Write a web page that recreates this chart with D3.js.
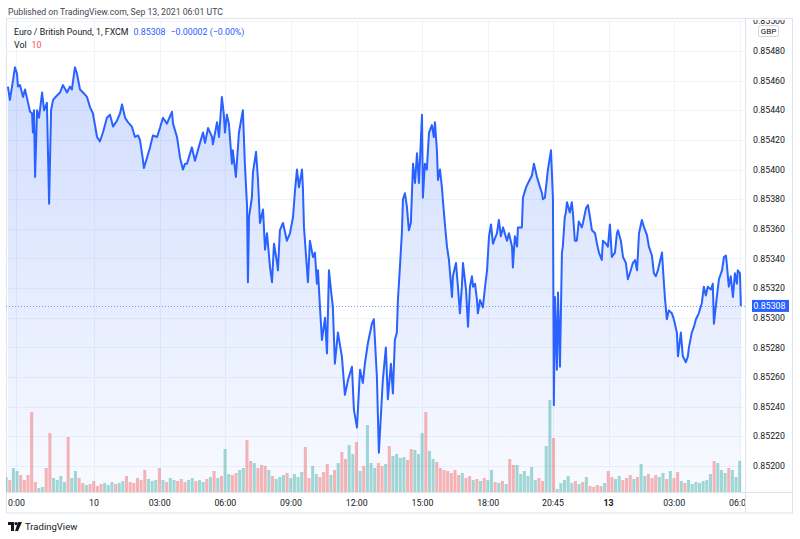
<!DOCTYPE html>
<html>
<head>
<meta charset="utf-8">
<script src="https://cdn.jsdelivr.net/npm/d3@7"></script>
<style>
  html, body { margin: 0; padding: 0; background: #fff; }
  svg { display: block; font-family: Roboto, "Noto Sans", sans-serif; }
</style>
</head>
<body>
<div id="chart"></div>
<script>
// EUR/GBP 1-minute, FXCM. Time is trading hours since the first bar (weekend gap removed)
const times = [
  0.07, 0.16, 0.30, 0.39, 0.48, 0.53, 0.62, 0.76, 0.85, 0.99, 1.08, 1.17, 1.21, 1.26, 1.31, 1.40, 1.49, 1.63, 1.72, 1.85,
  1.95, 2.04, 2.13, 2.31, 2.45, 2.58, 2.77, 2.90, 2.99, 3.13, 3.22, 3.36, 3.50, 3.68, 3.82, 3.95, 4.14, 4.27, 4.41, 4.59,
  4.73, 4.87, 5.05, 5.19, 5.28, 5.42, 5.55, 5.73, 5.87, 6.01, 6.10, 6.24, 6.28, 6.42, 6.56, 6.69, 6.88, 7.01, 7.15, 7.33,
  7.56, 7.61, 7.79, 7.93, 8.06, 8.16,
  8.25, 8.47, 8.61, 8.84, 8.98, 9.07, 9.21, 9.39, 9.43, 9.62, 9.71, 9.84, 9.93, 9.98, 10.07, 10.16, 10.30, 10.34, 10.48, 10.62,
  10.80, 10.89, 10.99, 11.03, 11.08, 11.21, 11.26, 11.40, 11.49, 11.58, 11.72, 11.81, 11.90, 12.04, 12.13, 12.22, 12.36, 12.40, 12.49, 12.63,
  12.81, 12.95, 13.09, 13.18, 13.27, 13.36, 13.50, 13.54, 13.59, 13.77, 13.86, 14.00, 14.09, 14.18, 14.23, 14.32, 14.41, 14.55, 14.64, 14.73,
  14.82, 14.91, 15.00, 15.14, 15.32, 15.46, 15.60, 15.78, 15.87, 16.01, 16.15, 16.28, 16.37, 16.51, 16.69, 16.78, 16.92, 17.01,
  17.19, 17.33, 17.42, 17.56, 17.65, 17.74, 17.83, 17.88, 17.97, 18.06, 18.11, 18.20, 18.29, 18.38, 18.47, 18.57, 18.66, 18.75, 18.84, 18.98,
  19.02, 19.11, 19.20, 19.30, 19.43, 19.52, 19.57, 19.66, 19.71, 19.80, 19.89, 19.93, 20.02, 20.12, 20.21, 20.35, 20.39, 20.53, 20.62, 20.71,
  20.80, 20.85, 20.99, 21.08, 21.17, 21.26, 21.31, 21.40, 21.49, 21.53, 21.63, 21.76, 21.86, 21.95, 22.04, 22.13, 22.22, 22.40, 22.49, 22.58,
  22.68, 22.86, 22.95, 23.09, 23.13, 23.22, 23.32, 23.36, 23.54, 23.59, 23.73, 23.86, 24.00, 24.09, 24.23, 24.37, 24.46, 24.50, 24.59, 24.68,
  24.73, 24.87, 24.96, 25.00, 25.05, 25.14, 25.19, 25.28, 25.37, 25.41, 25.50,
  25.55, 25.60, 25.73, 25.82, 25.87, 25.96, 26.05, 26.14, 26.28, 26.33, 26.47, 26.56, 26.65, 26.74, 26.88, 26.97, 27.06, 27.19, 27.24, 27.38,
  27.47, 27.56, 27.65, 27.79, 27.88, 27.93, 28.06, 28.16, 28.29, 28.38, 28.47, 28.61, 28.71, 28.80, 28.89, 29.02, 29.12, 29.25, 29.34, 29.48,
  29.57, 29.66, 29.75, 29.94, 29.98, 30.07, 30.16, 30.25, 30.39, 30.48, 30.62, 30.67, 30.80, 30.89, 31.03, 31.12, 31.17, 31.30, 31.40, 31.49,
  31.62, 31.76, 31.85, 31.94, 32.03, 32.17, 32.26, 32.31, 32.45, 32.54, 32.68, 32.77, 32.86, 32.90, 32.99, 33.08, 33.18, 33.27, 33.36, 33.40,
  33.50, 33.54
];
const prices = [
  0.85456, 0.85447, 0.85460, 0.85469, 0.85465, 0.85456, 0.85457, 0.85449, 0.85454, 0.85445, 0.85439, 0.85438, 0.85425, 0.85440, 0.85395, 0.85440, 0.85435, 0.85452, 0.85440, 0.85445,
  0.85377, 0.85440, 0.85447, 0.85450, 0.85452, 0.85457, 0.85452, 0.85456, 0.85454, 0.85469, 0.85465, 0.85454, 0.85452, 0.85449, 0.85442, 0.85438, 0.85422, 0.85419, 0.85425, 0.85435,
  0.85437, 0.85429, 0.85433, 0.85438, 0.85444, 0.85435, 0.85432, 0.85429, 0.85422, 0.85423, 0.85420, 0.85406, 0.85401, 0.85408, 0.85415, 0.85423, 0.85422, 0.85428, 0.85435, 0.85431,
  0.85439, 0.85431, 0.85422, 0.85408, 0.85400, 0.85404,
  0.85404, 0.85415, 0.85406, 0.85418, 0.85425, 0.85418, 0.85428, 0.85422, 0.85417, 0.85432, 0.85422, 0.85449, 0.85437, 0.85425, 0.85437, 0.85431, 0.85404, 0.85413, 0.85395, 0.85425,
  0.85440, 0.85404, 0.85375, 0.85324, 0.85368, 0.85381, 0.85398, 0.85412, 0.85393, 0.85364, 0.85373, 0.85346, 0.85357, 0.85334, 0.85324, 0.85350, 0.85337, 0.85332, 0.85359, 0.85364,
  0.85352, 0.85357, 0.85368, 0.85386, 0.85400, 0.85388, 0.85400, 0.85388, 0.85361, 0.85324, 0.85352, 0.85341, 0.85344, 0.85323, 0.85332, 0.85307, 0.85285, 0.85300, 0.85276, 0.85332,
  0.85319, 0.85307, 0.85269, 0.85290, 0.85274, 0.85248, 0.85258, 0.85267, 0.85238, 0.85226, 0.85265, 0.85256, 0.85269, 0.85283, 0.85296, 0.85299, 0.85260, 0.85209,
  0.85258, 0.85280, 0.85245, 0.85269, 0.85249, 0.85285, 0.85290, 0.85312, 0.85334, 0.85357, 0.85380, 0.85384, 0.85375, 0.85359, 0.85364, 0.85404, 0.85391, 0.85411, 0.85391, 0.85437,
  0.85381, 0.85404, 0.85400, 0.85425, 0.85430, 0.85422, 0.85432, 0.85413, 0.85393, 0.85400, 0.85388, 0.85380, 0.85364, 0.85348, 0.85339, 0.85314, 0.85328, 0.85337, 0.85321, 0.85303,
  0.85321, 0.85337, 0.85319, 0.85294, 0.85321, 0.85328, 0.85321, 0.85323, 0.85312, 0.85303, 0.85312, 0.85307, 0.85321, 0.85332, 0.85355, 0.85363, 0.85350, 0.85357, 0.85366, 0.85355,
  0.85361, 0.85352, 0.85357, 0.85348, 0.85334, 0.85355, 0.85348, 0.85361, 0.85361, 0.85381, 0.85388, 0.85392, 0.85396, 0.85404, 0.85395, 0.85388, 0.85384, 0.85380, 0.85381, 0.85393,
  0.85400, 0.85413, 0.85380, 0.85241, 0.85314, 0.85265, 0.85317, 0.85267, 0.85344, 0.85348, 0.85368,
  0.85371, 0.85378, 0.85371, 0.85378, 0.85371, 0.85352, 0.85352, 0.85365, 0.85361, 0.85364, 0.85374, 0.85376, 0.85368, 0.85359, 0.85357, 0.85350, 0.85344, 0.85339, 0.85352, 0.85350,
  0.85348, 0.85363, 0.85341, 0.85344, 0.85357, 0.85359, 0.85352, 0.85341, 0.85337, 0.85326, 0.85330, 0.85337, 0.85339, 0.85332, 0.85357, 0.85366, 0.85361, 0.85356, 0.85348, 0.85342,
  0.85330, 0.85328, 0.85332, 0.85344, 0.85334, 0.85314, 0.85299, 0.85305, 0.85303, 0.85299, 0.85290, 0.85274, 0.85290, 0.85274, 0.85270, 0.85274, 0.85280, 0.85290, 0.85294, 0.85299,
  0.85303, 0.85310, 0.85321, 0.85315, 0.85321, 0.85319, 0.85323, 0.85296, 0.85315, 0.85326, 0.85332, 0.85341, 0.85342, 0.85336, 0.85321, 0.85328, 0.85314, 0.85330, 0.85323, 0.85332,
  0.85330, 0.85308
];

// volume, one value per 10 minutes of trading time
const volumes = [
  15, 12, 24, 21, 17, 12, 17, 80, 10, 4, 5, 24, 59, 14, 12, 16, 10, 55, 14, 21,
  14, 9, 7, 8, 11, 6, 8, 9, 7, 10, 8, 9, 11, 16, 10, 9, 14, 12, 22, 13,
  11, 12, 24, 12, 10, 14, 12, 11, 13, 10, 12, 14, 11, 12, 10, 13, 15, 21, 14, 16,
  43, 18, 17, 19, 22, 24, 52, 31, 29, 24, 27, 26, 22, 16, 13, 15, 17, 19, 14, 18,
  15, 20, 45, 14, 26, 18, 15, 20, 28, 17, 22, 29, 40, 33, 47, 38, 50, 21, 26, 67,
  29, 24, 29, 26, 28, 46, 36, 38, 34, 35, 32, 43, 42, 38, 59, 80, 41, 33, 30, 24,
  22, 21, 19, 22, 17, 19, 14, 16, 12, 13, 11, 14, 12, 22, 10, 9, 11, 8, 33, 27,
  27, 18, 21, 16, 25, 12, 14, 11, 46, 92, 54, 3, 9, 12, 16, 9, 11, 8, 10, 15,
  6, 5, 7, 6, 9, 21, 15, 13, 16, 12, 14, 17, 13, 15, 28, 16, 18, 14, 17, 15,
  19, 13, 21, 14, 20, 11, 9, 12, 8, 10, 9, 11, 12, 18, 31, 29, 22, 19, 24, 22,
  15, 31
];
const volStep = 1 / 6;
const lastVol = 10;

const priceTicks = [0.8520, 0.8522, 0.8524, 0.8526, 0.8528, 0.8530, 0.8532, 0.8534,
                    0.8536, 0.8538, 0.8540, 0.8542, 0.8544, 0.8546, 0.8548, 0.8550];
const timeTicks = [0.46, 4, 7, 10, 13, 16, 19, 22, 24.96, 27.5, 30.5, 33.5];
const timeLabels = ["0:00", "10", "03:00", "06:00", "09:00", "12:00", "15:00", "18:00", "20:45", "13", "03:00", "06:00"];
const lastPrice = 0.85308;

const W = 800, H = 539;
const plotLeft = 6, plotRight = 745, plotTop = 18, plotBottom = 492;
const lineColor = '#2962ff';
const fontColor = '#131722';

const svg = d3.select('#chart').append('svg')
    .attr('width', W)
    .attr('height', H);

const x = d3.scaleLinear().domain([0, 33.73]).range([6.4, plotRight]);
const y = d3.scaleLinear().domain([0.8520, 0.8548]).range([466, 51]);
const yVol = d3.scaleLinear().domain([0, 100]).range([plotBottom, plotBottom - 100]);

const defs = svg.append('defs');
defs.append('clipPath').attr('id', 'plot-clip')
    .append('rect').attr('x', plotLeft).attr('y', plotTop)
    .attr('width', plotRight - plotLeft).attr('height', plotBottom - plotTop);
defs.append('clipPath').attr('id', 'axis-clip')
    .append('rect').attr('x', plotRight).attr('y', plotTop + 2)
    .attr('width', W - plotRight).attr('height', plotBottom - plotTop - 2);
defs.append('clipPath').attr('id', 'time-clip')
    .append('rect').attr('x', plotLeft).attr('y', plotBottom)
    .attr('width', plotRight - plotLeft).attr('height', 21);

const grad = defs.append('linearGradient')
    .attr('id', 'area-grad')
    .attr('gradientUnits', 'userSpaceOnUse')
    .attr('x1', 0).attr('y1', plotTop).attr('x2', 0).attr('y2', plotBottom);
grad.append('stop').attr('offset', '0%').attr('stop-color', lineColor).attr('stop-opacity', 0.24);
grad.append('stop').attr('offset', '100%').attr('stop-color', lineColor).attr('stop-opacity', 0.03);

// header
svg.append('text')
    .attr('x', 8).attr('y', 15)
    .style('font-size', '8.7px')
    .style('fill', '#434651')
    .text('Published on TradingView.com, Sep 13, 2021 06:01 UTC');

// frame
svg.append('rect')
    .attr('x', 6.5).attr('y', 18.5)
    .attr('width', 786).attr('height', 494.5)
    .attr('fill', 'none')
    .attr('stroke', '#e0e3eb');

const plot = svg.append('g').attr('clip-path', 'url(#plot-clip)');

// grid
plot.selectAll('.hgrid')
    .data(priceTicks)
    .enter().append('line')
    .attr('x1', plotLeft).attr('x2', plotRight)
    .attr('y1', d => Math.round(y(d)) + 0.5)
    .attr('y2', d => Math.round(y(d)) + 0.5)
    .attr('stroke', '#f0f3fa');
plot.selectAll('.vgrid')
    .data(timeTicks)
    .enter().append('line')
    .attr('y1', plotTop).attr('y2', plotBottom)
    .attr('x1', d => Math.round(x(d)) + 0.5)
    .attr('x2', d => Math.round(x(d)) + 0.5)
    .attr('stroke', '#f0f3fa');

const series = times.map((t, i) => ({ t: t, p: prices[i] }));

// area under the price line
plot.append('path')
    .datum(series)
    .attr('fill', 'url(#area-grad)')
    .attr('d', d3.area().x(d => x(d.t)).y0(plotBottom).y1(d => y(d.p)));

// volume bars, coloured by price direction over the bar
const bis = d3.bisector(d => d.t).right;
const priceAt = t => series[Math.max(0, bis(series, t) - 1)].p;
const barW = x(volStep) - x(0);
plot.selectAll('.vol')
    .data(volumes)
    .enter().append('rect')
    .attr('x', (d, i) => x(i * volStep) - barW / 2)
    .attr('width', barW - 0.6)
    .attr('y', d => yVol(d))
    .attr('height', d => plotBottom - yVol(d))
    .attr('fill', (d, i) => priceAt(i * volStep) >= priceAt((i - 1) * volStep) ? '#26a69a' : '#ef5350')
    .attr('opacity', 0.42);

// price line
plot.append('path')
    .datum(series)
    .attr('fill', 'none')
    .attr('stroke', lineColor)
    .attr('stroke-width', 2)
    .attr('stroke-linejoin', 'round')
    .attr('d', d3.line().x(d => x(d.t)).y(d => y(d.p)));

// last price dotted line
plot.append('line')
    .attr('x1', plotLeft).attr('x2', plotRight)
    .attr('y1', Math.round(y(lastPrice)) + 0.5)
    .attr('y2', Math.round(y(lastPrice)) + 0.5)
    .attr('stroke', lineColor)
    .attr('stroke-opacity', 0.6)
    .attr('stroke-dasharray', '1,2');

// separators
svg.append('line')
    .attr('x1', plotRight + 0.5).attr('x2', plotRight + 0.5)
    .attr('y1', plotTop).attr('y2', 513)
    .attr('stroke', '#e0e3eb');
svg.append('line')
    .attr('x1', plotLeft).attr('x2', 792)
    .attr('y1', plotBottom + 0.5).attr('y2', plotBottom + 0.5)
    .attr('stroke', '#e0e3eb');

// price axis
const yAxis = svg.append('g').attr('clip-path', 'url(#axis-clip)');
yAxis.selectAll('.ylab')
    .data(priceTicks)
    .enter().append('text')
    .attr('x', 753)
    .attr('y', d => y(d))
    .attr('dy', '0.35em')
    .style('font-size', '8.8px')
    .style('fill', fontColor)
    .text(d => d3.format('.5f')(d));

// currency badge
yAxis.append('rect')
    .attr('x', 758.5).attr('y', 25.5)
    .attr('width', 20).attr('height', 11)
    .attr('rx', 2)
    .attr('fill', '#fff')
    .attr('stroke', '#d1d4dc');
yAxis.append('text')
    .attr('x', 768.5).attr('y', 31)
    .attr('dy', '0.35em')
    .attr('text-anchor', 'middle')
    .style('font-size', '8px')
    .style('fill', fontColor)
    .text('GBP');

// last price badge
yAxis.append('rect')
    .attr('x', 752).attr('y', y(lastPrice) - 6)
    .attr('width', 37).attr('height', 12)
    .attr('fill', lineColor);
yAxis.append('text')
    .attr('x', 753.5).attr('y', y(lastPrice))
    .attr('dy', '0.35em')
    .style('font-size', '8.8px')
    .style('fill', '#fff')
    .text(d3.format('.5f')(lastPrice));

// time axis
svg.append('g').attr('clip-path', 'url(#time-clip)')
    .selectAll('.xlab')
    .data(timeTicks)
    .enter().append('text')
    .attr('x', d => x(d))
    .attr('y', 503)
    .attr('dy', '0.35em')
    .attr('text-anchor', 'middle')
    .style('font-size', '8.8px')
    .style('font-weight', (d, i) => timeLabels[i] === '13' ? 'bold' : 'normal')
    .style('fill', fontColor)
    .text((d, i) => timeLabels[i]);

// legend
const legend = svg.append('g').style('font-size', '8.8px');
const l1 = legend.append('text').attr('x', 14).attr('y', 35);
l1.append('tspan').style('fill', fontColor).text('Euro / British Pound, 1, FXCM');
l1.append('tspan').attr('dx', 5).style('fill', lineColor).text(d3.format('.5f')(lastPrice));
l1.append('tspan').attr('dx', 5).style('fill', lineColor).text('\u22120.00002 (\u22120.00%)');
const l2 = legend.append('text').attr('x', 14).attr('y', 48);
l2.append('tspan').style('fill', fontColor).text('Vol');
l2.append('tspan').attr('dx', 5).style('fill', '#ef5350').text(lastVol);

// TradingView logo
const logo = svg.append('g').attr('transform', 'translate(8,522)');
logo.append('path')
    .attr('d', 'M0,0 H6 V9 H3 V3 H0 Z')
    .attr('fill', fontColor);
logo.append('circle')
    .attr('cx', 8).attr('cy', 1.6).attr('r', 1.6)
    .attr('fill', fontColor);
logo.append('path')
    .attr('d', 'M10,0 H14 L10,9 H7 Z')
    .attr('fill', fontColor);
svg.append('text')
    .attr('x', 25).attr('y', 530)
    .style('font-size', '9.5px')
    .style('fill', fontColor)
    .text('TradingView');
</script>
</body>
</html>
